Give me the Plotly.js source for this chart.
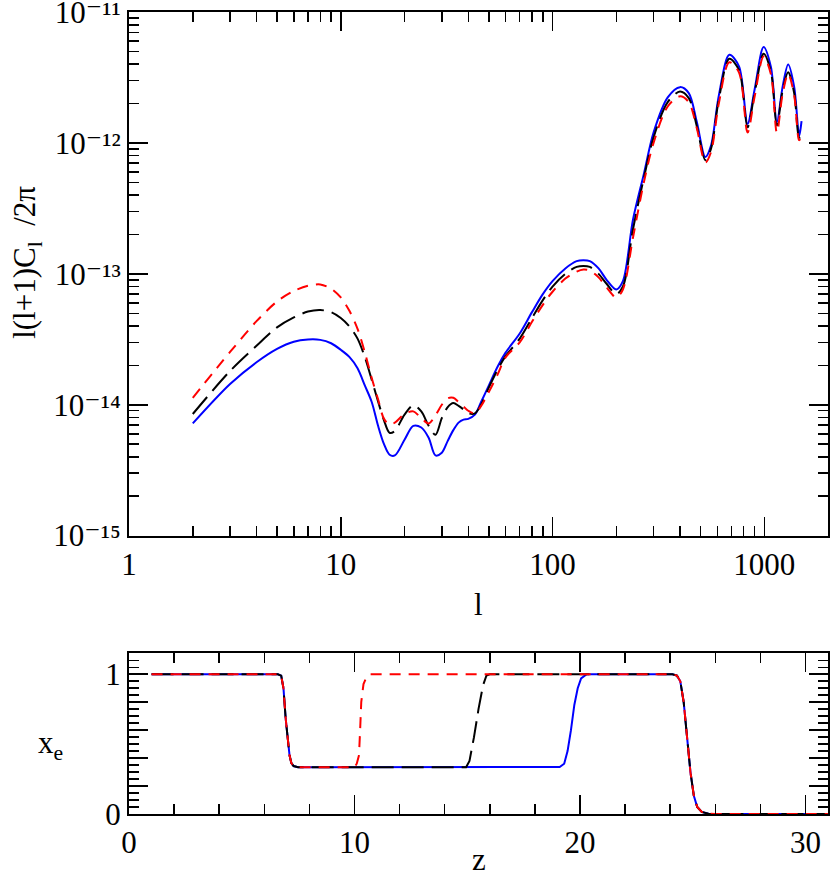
<!DOCTYPE html>
<html>
<head>
<meta charset="utf-8">
<script src="https://cdn.plot.ly/plotly-3.0.1.min.js"></script>
<style>html,body{margin:0;padding:0;background:#fff;}#chart{width:830px;height:879px;}</style>
</head>
<body>
<div id="chart"></div>
<script>
// ---- Top panel: multipole l and l(l+1)C_l/2pi ----
const ell = [2,3,4,5,6,7,8,9,10,11,12,13,14,15,16,17,18,20,22,24,26,28,30,32,34,36,38,40,43,46,50,55,60,70,80,90,100,115,130,140,150,165,180,200,215,240,270,300,350,400,440,480,527,560,610,684,760,834,900,993,1075,1147,1220,1297,1385,1460,1480,1500];

const clBlue = [7.2e-15,1.44e-14,2.11e-14,2.67e-14,3.03e-14,3.15e-14,3.13e-14,2.95e-14,2.63e-14,2.31e-14,1.9e-14,1.4e-14,1.05e-14,6.9e-15,5.0e-15,4.15e-15,4.1e-15,5.4e-15,6.9e-15,6.7e-15,5.6e-15,4.1e-15,4.3e-15,5.3e-15,6.4e-15,7.3e-15,7.7e-15,7.8e-15,8.4e-15,1.05e-14,1.4e-14,1.95e-14,2.5e-14,3.5e-14,5.1e-14,7.0e-14,8.8e-14,1.1e-13,1.25e-13,1.27e-13,1.25e-13,1.1e-13,9.0e-14,7.6e-14,8.8e-14,2.6e-13,5.8e-13,1.2e-12,2.23e-12,2.67e-12,2.4e-12,1.45e-12,7.8e-13,9.5e-13,2.3e-12,4.72e-12,3.85e-12,1.4e-12,2.55e-12,5.4e-12,3.8e-12,1.44e-12,2.67e-12,3.98e-12,2.67e-12,1.14e-12,1.25e-12,1.47e-12];

const clBlack = [8.5e-15,1.81e-14,2.82e-14,3.9e-14,4.65e-14,5.15e-14,5.29e-14,5.1e-14,4.6e-14,3.95e-14,3.2e-14,2.3e-14,1.55e-14,1.06e-14,7.6e-15,6.1e-15,6.3e-15,8.4e-15,9.9e-15,8.9e-15,6.9e-15,5.9e-15,7.9e-15,9.6e-15,1.03e-14,9.8e-15,9.2e-15,8.6e-15,8.6e-15,1.0e-14,1.35e-14,1.85e-14,2.35e-14,3.2e-14,4.6e-14,6.3e-14,8.0e-14,1.0e-13,1.13e-13,1.15e-13,1.13e-13,1.0e-13,8.4e-14,7.0e-14,8.0e-14,2.2e-13,5.4e-13,1.1e-12,2.05e-12,2.47e-12,2.2e-12,1.35e-12,7.4e-13,9.0e-13,2.15e-12,4.4e-12,3.6e-12,1.32e-12,2.4e-12,4.8e-12,3.5e-12,1.36e-12,2.5e-12,3.47e-12,2.4e-12,1.1e-12,1.1e-12,null];

const clRed = [1.13e-14,2.53e-14,4.35e-14,6.15e-14,7.4e-14,8.1e-14,8.3e-14,7.7e-14,6.6e-14,5.2e-14,3.8e-14,2.5e-14,1.6e-14,1.1e-14,7.8e-15,7.05e-15,7.3e-15,8.5e-15,8.9e-15,7.9e-15,7.2e-15,8.3e-15,1.0e-14,1.12e-14,1.13e-14,1.05e-14,9.7e-15,9.0e-15,8.6e-15,9.8e-15,1.25e-14,1.7e-14,2.3e-14,3.0e-14,4.3e-14,5.8e-14,7.3e-14,9.2e-14,1.04e-13,1.08e-13,1.06e-13,9.4e-14,7.9e-14,6.6e-14,7.6e-14,1.9e-13,5.0e-13,1.0e-12,1.9e-12,2.27e-12,2.05e-12,1.3e-12,7.1e-13,8.5e-13,2.0e-12,4.14e-12,3.45e-12,1.2e-12,2.25e-12,4.57e-12,3.35e-12,1.2e-12,2.35e-12,3.37e-12,2.3e-12,1.05e-12,1.07e-12,null];

// ---- Bottom panel: ionization history x_e(z) ----
const zBlue  = [1,6.6,6.75,6.85,6.95,7.05,7.12,7.2,7.3,7.5,19.1,19.3,19.45,19.6,19.75,19.9,20.05,20.3,24.1,24.3,24.45,24.6,24.75,24.9,25.05,25.2,25.4,25.7,26,31];
const xeBlue = [1,1,0.99,0.9,0.68,0.5,0.42,0.365,0.343,0.334,0.336,0.36,0.45,0.6,0.78,0.9,0.97,1,1,0.99,0.95,0.8,0.55,0.3,0.13,0.05,0.015,0.002,0,0];

const zBlack  = [1,6.6,6.75,6.85,6.95,7.05,7.12,7.2,7.3,7.5,14.95,15.1,15.3,15.5,15.7,15.85,16.0,24.1,24.3,24.45,24.6,24.75,24.9,25.05,25.2,25.4,25.7,26,31];
const xeBlack = [1,1,0.99,0.9,0.68,0.5,0.42,0.365,0.343,0.334,0.334,0.38,0.55,0.75,0.92,0.99,1,1,0.99,0.95,0.8,0.55,0.3,0.13,0.05,0.015,0.002,0,0];

const zRed  = [1,6.6,6.75,6.85,6.95,7.05,7.12,7.2,7.3,7.5,10.0,10.1,10.2,10.25,10.3,10.4,10.55,10.7,24.1,24.3,24.45,24.6,24.75,24.9,25.05,25.2,25.4,25.7,26,31];
const xeRed = [1,1,0.99,0.9,0.68,0.5,0.42,0.365,0.343,0.334,0.334,0.36,0.42,0.6,0.8,0.93,0.985,1,1,0.99,0.95,0.8,0.55,0.3,0.13,0.05,0.015,0.002,0,0];

const xTickVals = [1,10,100,1000];
const xTickText = ['1','10','100','1000'];
const yTickVals = [1e-15,1e-14,1e-13,1e-12,1e-11];
const yTickText = ['10\u207B\u00B9\u2075','10\u207B\u00B9\u2074','10\u207B\u00B9\u00B3','10\u207B\u00B9\u00B2','10\u207B\u00B9\u00B9'];
const zTickVals = [0,10,20,30];
const zTickText = ['0','10','20','30'];
const xeTickVals = [0,0.2,0.4,0.6,0.8,1];
const xeTickText = ['0','','','','','1'];

const FONT = 'Liberation Serif, DejaVu Serif, serif';
const FS = 31;
const BLUE = '#0000ff', RED = '#ff0000', BLACK = '#000000';
const DASH_LONG = '22px,8px', DASH_SHORT = '11px,8px';

// minor tick positions for log axes (2..9 in each decade)
function logMinor(lo, hi) {
  const out = [];
  for (let e = lo; e < hi; e++) for (let m = 2; m <= 9; m++) out.push(m * Math.pow(10, e));
  return out;
}

const traces = [
  {x: ell, y: clBlue, mode: 'lines', line: {color: BLUE, width: 2, shape: 'spline', smoothing: 0.9}, xaxis: 'x', yaxis: 'y'},
  {x: ell, y: clBlack, mode: 'lines', line: {color: BLACK, width: 2, shape: 'spline', smoothing: 0.9}, xaxis: 'x', yaxis: 'y'},
  {x: ell, y: clRed, mode: 'lines', line: {color: RED, width: 2, shape: 'spline', smoothing: 0.9}, xaxis: 'x', yaxis: 'y'},
  {x: zBlue, y: xeBlue, mode: 'lines', line: {color: BLUE, width: 2}, xaxis: 'x2', yaxis: 'y2'},
  {x: zBlack, y: xeBlack, mode: 'lines', line: {color: BLACK, width: 2}, xaxis: 'x2', yaxis: 'y2'},
  {x: zRed, y: xeRed, mode: 'lines', line: {color: RED, width: 2}, xaxis: 'x2', yaxis: 'y2'}
];

function ax(extra) {
  return Object.assign({
    showline: true, linecolor: '#000', linewidth: 2, mirror: 'ticks',
    ticks: 'inside', ticklen: 19, tickwidth: 1.5, tickcolor: '#000',
    showgrid: false, zeroline: false, ticklabeloverflow: 'allow',
    tickfont: {family: FONT, size: FS, color: '#000'}
  }, extra);
}
function minorTicks(extra) {
  return Object.assign({ticks: 'inside', ticklen: 10, tickwidth: 1.5, tickcolor: '#000'}, extra);
}

const layout = {
  width: 830, height: 879,
  margin: {l: 129, r: 2, t: 12, b: 65},
  paper_bgcolor: '#fff', plot_bgcolor: '#fff',
  showlegend: false,
  font: {family: FONT, color: '#000'},
  xaxis: ax({
    type: 'log', range: [-0.0002, Math.log10(2000)], domain: [0, 1], anchor: 'y',
    tickmode: 'array', tickvals: xTickVals, ticktext: xTickText,
    minor: minorTicks({tickmode: 'array', tickvals: logMinor(0, 4)})
  }),
  yaxis: ax({
    type: 'log', range: [-15.0005, -10.9995], domain: [0.347, 1], anchor: 'x',
    tickmode: 'array', tickvals: yTickVals, ticktext: yTickText,
    minor: minorTicks({tickmode: 'array', tickvals: logMinor(-15, -11)})
  }),
  xaxis2: ax({
    range: [0, 31], domain: [0, 1], anchor: 'y2',
    tickmode: 'array', tickvals: zTickVals, ticktext: zTickText,
    minor: minorTicks({dtick: 2, tick0: 0})
  }),
  yaxis2: ax({
    range: [0, 1.15], domain: [0, 0.2004], anchor: 'x2',
    tickmode: 'array', tickvals: xeTickVals, ticktext: xeTickText,
    minor: minorTicks({dtick: 0.05, tick0: 0})
  })
};

const annotations = [
  {text: 'l(l+1)C<sub>l</sub>  /2\u03c0', xref: 'paper', yref: 'paper', x: -0.145, y: 0.688, textangle: -90,
   showarrow: false, xanchor: 'center', yanchor: 'middle', font: {family: FONT, size: 31, color: '#000'}},
  {text: 'l', xref: 'paper', yref: 'paper', x: 0.5, y: 0.2606, showarrow: false,
   xanchor: 'center', yanchor: 'middle', font: {family: FONT, size: FS, color: '#000'}},
  {text: 'x<sub>e</sub>', xref: 'paper', yref: 'paper', x: -0.113, y: 0.086, showarrow: false,
   xanchor: 'center', yanchor: 'middle', font: {family: FONT, size: FS, color: '#000'}},
  {text: 'z', xref: 'paper', yref: 'paper', x: 0.5, y: -0.081, showarrow: false,
   xanchor: 'center', yanchor: 'bottom', font: {family: FONT, size: FS, color: '#000'}}
];

const gdiv = document.getElementById('chart');
Plotly.newPlot(gdiv, traces, layout, {displayModeBar: false, staticPlot: true})
  .then(() => Plotly.restyle(gdiv, {'line.dash': [DASH_LONG, DASH_SHORT, DASH_LONG, DASH_SHORT]}, [1, 2, 4, 5]))
  .then(() => Plotly.relayout(gdiv, {annotations: annotations}));
</script>
</body>
</html>
